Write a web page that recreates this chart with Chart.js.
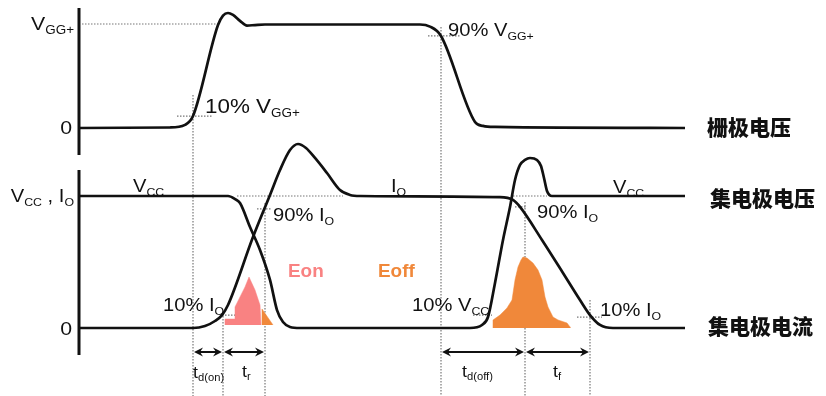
<!DOCTYPE html>
<html lang="zh">
<head>
    <meta charset="UTF-8">
    <title>IGBT 开关波形</title>
    <script src="https://cdn.jsdelivr.net/npm/chart.js"></script>
    <style>
        body { margin: 0; background: #fff; }
        canvas { display: block; }
    </style>
</head>
<body>
    <canvas id="wave" width="826" height="396"></canvas>
    <script>
        // time axis in arbitrary units, values normalised (1 = V_GG+, 1 = V_CC / I_O)
        const gateT = [0, 18.2, 21.2, 22.8, 27.8, 28.8, 29.8, 30.8, 32.2, 33.6, 35.2, 37.2, 68.2, 70.2, 72.4, 79.2, 80.8, 83.2, 121.2];
        const gateV = [0, 0.005, 0.03, 0.115, 0.99, 1.08, 1.106, 1.087, 1.03, 0.985, 0.99, 0.995, 0.995, 0.975, 0.885, 0.058, 0.02, 0.01, 0];

        const vceT = [0, 29.8, 31.2, 32.2, 34.2, 36.2, 38.2, 39.6, 40.8, 42.2, 44.2, 78.2, 80.6, 81.8, 83.2, 84.8, 86.2, 87.2, 88.2, 89.2, 90.2, 91.6, 92.4, 93, 93.6, 94.6, 121.2];
        const vceV = [1.0, 1.0, 0.977, 0.947, 0.765, 0.591, 0.364, 0.136, 0.045, 0.008, 0, 0, 0.023, 0.083, 0.341, 0.667, 0.917, 1.121, 1.235, 1.273, 1.288, 1.273, 1.227, 1.136, 1.038, 1.0, 1.0];

        const icT = [0, 22.8, 25.2, 27.2, 28.6, 29.8, 34.8, 38.2, 40.2, 42.2, 43.8, 45.4, 47.2, 49.6, 52.2, 54.2, 56.2, 84.2, 86.8, 88.2, 92.6, 96.8, 100.2, 102.2, 104.2, 106.8, 121.2];
        const icV = [0, 0, 0.015, 0.053, 0.098, 0.174, 0.689, 1.008, 1.197, 1.348, 1.394, 1.364, 1.288, 1.174, 1.045, 1.008, 1.0, 0.992, 0.97, 0.917, 0.667, 0.417, 0.212, 0.098, 0.023, 0, 0];

        const eonT = [29.2, 29.2, 31.2, 31.2, 32.2, 33.2, 34.0, 35.2, 36.2, 36.4];
        const eonV = [0.023, 0.068, 0.068, 0.159, 0.235, 0.311, 0.386, 0.288, 0.174, 0.023];
        const eonTailT = [36.6, 36.6, 38.8];
        const eonTailV = [0.023, 0.144, 0.023];

        const eoffT = [82.8, 82.8, 84.2, 85.6, 86.6, 87.2, 87.8, 88.4, 88.8, 89.6, 90.8, 91.8, 92.6, 93.2, 93.8, 94.8, 95.8, 97.6, 98.2, 98.2];
        const eoffV = [0, 0.061, 0.098, 0.152, 0.212, 0.364, 0.462, 0.515, 0.538, 0.530, 0.492, 0.439, 0.364, 0.235, 0.159, 0.083, 0.061, 0.038, 0.008, 0];

        // dotted guides: vertical [t, top value on collector axis]
        const vGuideT = [22.8, 28.8, 37.2, 72.4, 89.2, 102.2];
        const vGuideTop = [1.765, 0.114, 0.947, 2.28, 0.955, 0.212];
        // horizontal [axis, value, t0, t1]
        const hGuides = [
            ['yG', 1.0, 0.6, 28.2],
            ['yG', 0.115, 19.6, 26.6],
            ['yG', 0.885, 69.8, 76.2],
            ['yC', 1.0, 31.6, 52.8],
            ['yC', 0.902, 35.6, 38.6],
            ['yC', 0.098, 28.6, 31.2],
            ['yC', 1.0, 86.8, 93.6],
            ['yC', 0.917, 87.2, 89.6],
            ['yC', 0.098, 78.8, 82.6],
            ['yC', 0.083, 99.6, 104.6]
        ];
        // timing arrows [t0, t1]
        const spans = [[22.8, 28.8], [28.8, 37.2], [72.4, 89.2], [89.2, 102.2]];
        const spanLevel = -0.182;

        const pts = (ts, vs) => ts.map((t, i) => ({ x: t, y: vs[i] }));

        const wave = (ts, vs, axis) => ({
            data: pts(ts, vs), yAxisID: axis,
            borderColor: '#111', borderWidth: 2.7, pointRadius: 0,
            cubicInterpolationMode: 'monotone', fill: false
        });
        const area = (ts, vs, color, base) => ({
            data: pts(ts, vs), yAxisID: 'yC',
            borderColor: color, borderWidth: 0.5, backgroundColor: color,
            pointRadius: 0, tension: 0, fill: { value: base }
        });
        const guide = (data, axis) => ({
            data: data, yAxisID: axis,
            borderColor: '#777', borderWidth: 1.2, borderDash: [1.5, 1.5],
            pointRadius: 0, tension: 0, fill: false
        });

        const datasets = [
            wave(gateT, gateV, 'yG'),
            wave(vceT, vceV, 'yC'),
            wave(icT, icV, 'yC'),
            area(eonT, eonV, '#F98282', 0.023),
            area(eonTailT, eonTailV, '#F0883A', 0.023),
            area(eoffT, eoffV, '#F0883A', 0)
        ];
        vGuideT.forEach((t, i) => datasets.push(guide([{ x: t, y: vGuideTop[i] }, { x: t, y: -0.5152 }], 'yC')));
        hGuides.forEach(g => datasets.push(guide([{ x: g[2], y: g[1] }, { x: g[3], y: g[1] }], g[0])));

        const FONT = '"Liberation Sans", Arial, sans-serif';

        function drawParts(ctx, x, y, parts, size, align, opts = {}) {
            const sx = opts.sx || 1.12;
            const weight = opts.weight || 'normal';
            const subSize = Math.round(size * 0.62);
            const widths = parts.map(([s, sub]) => {
                ctx.font = `${weight} ${sub ? subSize : size}px ${FONT}`;
                return ctx.measureText(s).width * sx;
            });
            const total = widths.reduce((a, b) => a + b, 0);
            let cx = align === 'right' ? x - total : x;
            ctx.save();
            ctx.fillStyle = opts.color || '#111';
            ctx.textBaseline = 'alphabetic';
            parts.forEach(([s, sub], i) => {
                ctx.font = `${weight} ${sub ? subSize : size}px ${FONT}`;
                ctx.save();
                ctx.translate(cx, y + (sub ? size * 0.2 : 0));
                ctx.scale(sx, 1);
                ctx.fillText(s, 0, 0);
                ctx.restore();
                cx += widths[i];
            });
            ctx.restore();
        }

        const labels = [
            ['right', 74, 30, [['V'], ['GG+', 1]], 19],
            ['right', 72, 134, [['0']], 19],
            ['right', 74, 202, [['V'], ['CC', 1], [' , I'], ['O', 1]], 18],
            ['right', 72, 335, [['0']], 19],
            ['left', 205, 113, [['10% V'], ['GG+', 1]], 20],
            ['left', 448, 36, [['90% V'], ['GG+', 1]], 18],
            ['left', 133, 192, [['V'], ['CC', 1]], 18],
            ['left', 391, 192, [['I'], ['O', 1]], 18],
            ['left', 613, 193, [['V'], ['CC', 1]], 18],
            ['left', 273, 221, [['90% I'], ['O', 1]], 18],
            ['left', 537, 218, [['90% I'], ['O', 1]], 18],
            ['left', 163, 311, [['10% I'], ['O', 1]], 18],
            ['left', 412, 311, [['10% V'], ['CC', 1]], 18],
            ['left', 600, 316, [['10% I'], ['O', 1]], 18],
            ['left', 193, 378, [['t'], ['d(on)', 1]], 16],
            ['left', 242, 377, [['t'], ['r', 1]], 16],
            ['left', 462, 377, [['t'], ['d(off)', 1]], 16],
            ['left', 553, 377, [['t'], ['f', 1]], 16]
        ];

        const sideLabels = [['栅极电压', 707, 127], ['集电极电压', 710, 198], ['集电极电流', 708, 326]];

        const decor = {
            id: 'decor',
            afterDraw(chart) {
                const ctx = chart.ctx;
                const x = chart.scales.x, yC = chart.scales.yC;
                const left = chart.chartArea.left;

                // the two vertical axes
                ctx.save();
                ctx.strokeStyle = '#111';
                ctx.lineWidth = 3;
                ctx.beginPath();
                ctx.moveTo(left, 8); ctx.lineTo(left, 155);
                ctx.moveTo(left, 170); ctx.lineTo(left, 355);
                ctx.stroke();

                // timing arrows
                const yy = yC.getPixelForValue(spanLevel);
                ctx.lineWidth = 2;
                ctx.fillStyle = '#111';
                spans.forEach(([a, b]) => {
                    const xa = x.getPixelForValue(a), xb = x.getPixelForValue(b);
                    ctx.beginPath();
                    ctx.moveTo(xa + 4, yy); ctx.lineTo(xb - 4, yy);
                    ctx.stroke();
                    [[xa, 1], [xb, -1]].forEach(([px, d]) => {
                        ctx.beginPath();
                        ctx.moveTo(px + 1 * d, yy);
                        ctx.lineTo(px + 10 * d, yy - 4.5);
                        ctx.lineTo(px + 7 * d, yy);
                        ctx.lineTo(px + 10 * d, yy + 4.5);
                        ctx.closePath();
                        ctx.fill();
                    });
                });
                ctx.restore();

                labels.forEach(([align, lx, ly, parts, size]) => drawParts(ctx, lx, ly, parts, size, align));
                drawParts(ctx, 288, 277, [['Eon']], 18, 'left', { color: '#F98282', weight: 'bold', sx: 1.05 });
                drawParts(ctx, 378, 277, [['Eoff']], 18, 'left', { color: '#F0883A', weight: 'bold', sx: 1.05 });

                ctx.save();
                ctx.fillStyle = '#111';
                ctx.font = '900 21px "Noto Sans CJK SC", sans-serif';
                ctx.textBaseline = 'middle';
                sideLabels.forEach(([s, lx, ly]) => ctx.fillText(s, lx, ly));
                ctx.restore();
            }
        };

        new Chart(document.getElementById('wave'), {
            type: 'line',
            data: { datasets: datasets },
            options: {
                responsive: false,
                animation: false,
                events: [],
                layout: { padding: { left: 79, right: 0, top: 0, bottom: 0 } },
                plugins: { legend: { display: false }, tooltip: { enabled: false } },
                scales: {
                    x: { type: 'linear', min: 0, max: 149.4, display: false },
                    yG: { type: 'linear', min: -2.5769, max: 1.2308, display: false },
                    yC: { type: 'linear', min: -0.5152, max: 2.4848, display: false }
                }
            },
            plugins: [decor]
        });
    </script>
</body>
</html>
